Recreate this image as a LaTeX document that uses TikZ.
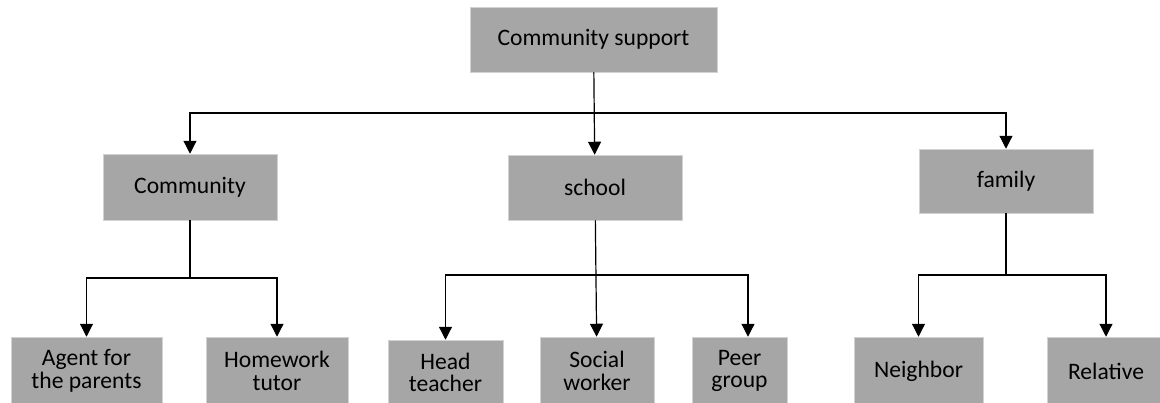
\documentclass[tikz,border=0pt]{standalone}
\usepackage{fontspec}
\setmainfont{Carlito}
\usetikzlibrary{arrows.meta}
\definecolor{boxgray}{HTML}{A6A6A6}
\tikzset{
  unit/.style={fill=boxgray, draw=gray!35, line width=0.5pt, inner sep=0pt,
    align=center, text=black, font=\fontsize{23.6}{22.7}\selectfont},
  link/.style={line width=1.2pt, -{Triangle[width=13pt,length=13pt]}},
  trunk/.style={line width=1.2pt},
}
\begin{document}
\begin{tikzpicture}[x=1pt,y=-1pt]
\useasboundingbox (0,0) rectangle (1160,402);
% Root of the tree
\node[unit, minimum width=247, minimum height=65] (top) at (593.5,39.5) {Community support};
% Second level
\node[unit, minimum width=174, minimum height=66] (comm) at (190,187) {Community};
\node[unit, minimum width=174, minimum height=65] (school) at (595,187.5) {school};
\node[unit, minimum width=174, minimum height=64] (fam) at (1006,181) {family};
% Third level (cut by the lower and right edge)
\node[unit, minimum width=151, minimum height=68] (agent) at (86.5,371) {Agent for\\the parents};
\node[unit, minimum width=142, minimum height=68] (home) at (277,371) {Homework\\tutor};
\node[unit, minimum width=115, minimum height=65] (head) at (445.5,372.5) {Head\\teacher};
\node[unit, minimum width=114, minimum height=68] (social) at (597,371) {Social\\worker};
\node[unit, minimum width=95, minimum height=68] (peer) at (739.5,371) {Peer\\group};
\node[unit, minimum width=129, minimum height=68] (neigh) at (918.5,371) {Neighbor};
\node[unit, minimum width=118, minimum height=68] (rel) at (1106,371) {Relative};
% Branch points of the connectors
\coordinate (b1) at (593.5,113);
\coordinate (b2) at (190,278);
\coordinate (b3) at (597,275);
\coordinate (b4) at (1006,275);
% Root to the second level
\draw[link] (top) -- (school);
\draw[link] (b1) -| (comm.north);
\draw[link] (b1) -| (fam.north);
% Community branch
\draw[trunk] (comm.south) -- (b2);
\draw[link] (b2) -| (agent.north);
\draw[link] (b2) -| (home.north);
% School branch
\draw[link] (school) -- (social);
\draw[link] (b3) -| (head.north);
\draw[link] (b3) -| ([xshift=8.5]peer.north);
% Family branch
\draw[trunk] (fam.south) -- (b4);
\draw[link] (b4) -| (neigh.north);
\draw[link] (b4) -| (rel.north);
\end{tikzpicture}
\end{document}
